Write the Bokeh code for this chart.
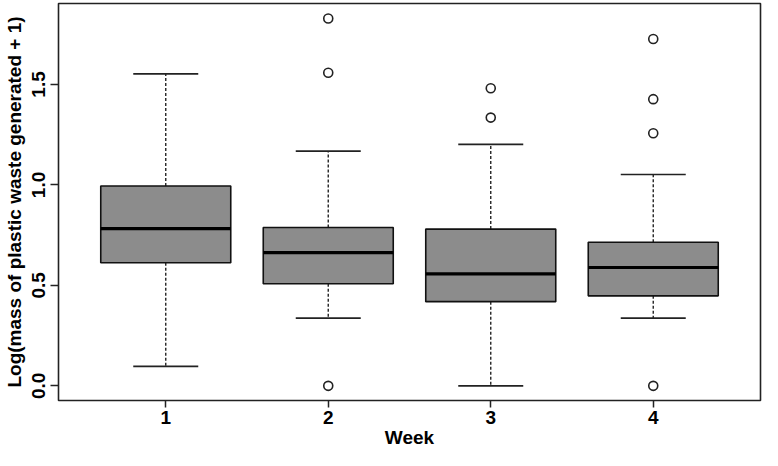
from bokeh.plotting import figure
from bokeh.models import Range1d, FixedTicker, ColumnDataSource
from bokeh.transform import dodge
from bokeh.embed import file_html
from bokeh.resources import INLINE

# ---- data ----
weeks = [1, 2, 3, 4]
tick_labels = ["1", "2", "3", "4"]
whisker_low = [0.097, 0.337, 0.0, 0.337]
q1 = [0.613, 0.508, 0.419, 0.448]
median = [0.782, 0.663, 0.557, 0.589]
q3 = [0.995, 0.788, 0.780, 0.715]
whisker_high = [1.553, 1.168, 1.202, 1.052]
outlier_week = [2, 2, 2, 3, 3, 4, 4, 4, 4]
outlier_value = [1.828, 1.558, 0.0, 1.481, 1.335, 1.726, 1.427, 1.257, 0.0]
y_ticks = [0.0, 0.5, 1.0, 1.5]
y_tick_labels = ["0.0", "0.5", "1.0", "1.5"]

FONT = "Liberation Sans"

src = ColumnDataSource(dict(week=weeks, lo=whisker_low, q1=q1, med=median,
                            q3=q3, hi=whisker_high))
out_src = ColumnDataSource(dict(week=outlier_week, val=outlier_value))

p = figure(width=762, height=450, output_backend="svg", toolbar_location=None,
           x_range=Range1d(0.34, 4.66), y_range=Range1d(-0.073, 1.903))
p.min_border_top = 3
p.min_border_right = 2
p.min_border_left = 0
p.min_border_bottom = 0
p.background_fill_color = "white"
p.border_fill_color = "white"
p.outline_line_color = "#222222"
p.outline_line_width = 1.6
p.xgrid.visible = False
p.ygrid.visible = False

# whiskers (dashed)
p.segment(x0="week", y0="q3", x1="week", y1="hi", source=src,
          line_color="#222222", line_width=1.4, line_dash="3 2")
p.segment(x0="week", y0="q1", x1="week", y1="lo", source=src,
          line_color="#222222", line_width=1.4, line_dash="3 2")
# caps
p.segment(x0=dodge("week", -0.2), y0="hi", x1=dodge("week", 0.2), y1="hi",
          source=src, line_color="#222222", line_width=1.7)
p.segment(x0=dodge("week", -0.2), y0="lo", x1=dodge("week", 0.2), y1="lo",
          source=src, line_color="#222222", line_width=1.7)
# boxes
p.vbar(x="week", width=0.8, bottom="q1", top="q3", source=src,
       fill_color="#8c8c8c", line_color="#111111", line_width=1.6)
# medians
p.segment(x0=dodge("week", -0.4), y0="med", x1=dodge("week", 0.4), y1="med",
          source=src, line_color="black", line_width=3.2)
# outliers
p.scatter(x="week", y="val", source=out_src, marker="circle", size=9,
          fill_color="white", line_color="#222222", line_width=1.6)

# axes
p.xaxis.ticker = FixedTicker(ticks=weeks)
p.xaxis.major_label_overrides = {w: t for w, t in zip(weeks, tick_labels)}
p.yaxis.ticker = FixedTicker(ticks=y_ticks)
p.yaxis.major_label_overrides = {v: t for v, t in zip(y_ticks, y_tick_labels)}
p.yaxis.major_label_orientation = "vertical"
p.xaxis.axis_label = "Week"
p.yaxis.axis_label = "Log(mass of plastic waste generated + 1)"

for ax in (p.xaxis[0], p.yaxis[0]):
    ax.axis_line_color = None
    ax.major_tick_line_color = "#222222"
    ax.major_tick_line_width = 1.5
    ax.major_tick_in = 0
    ax.minor_tick_line_color = None
    ax.major_label_text_font = FONT
    ax.major_label_text_font_style = "bold"
    ax.major_label_text_font_size = "19px"
    ax.major_label_text_color = "black"
    ax.axis_label_text_font = FONT
    ax.axis_label_text_font_style = "bold"
    ax.axis_label_text_font_size = "19px"
    ax.axis_label_text_color = "black"

p.xaxis.major_tick_out = 7
p.yaxis.major_tick_out = 8
p.xaxis.major_label_standoff = 3
p.xaxis.axis_label_standoff = 0
p.yaxis.major_label_standoff = 5
p.yaxis.axis_label_standoff = 5

open("out.html", "w").write(file_html(p, INLINE))
